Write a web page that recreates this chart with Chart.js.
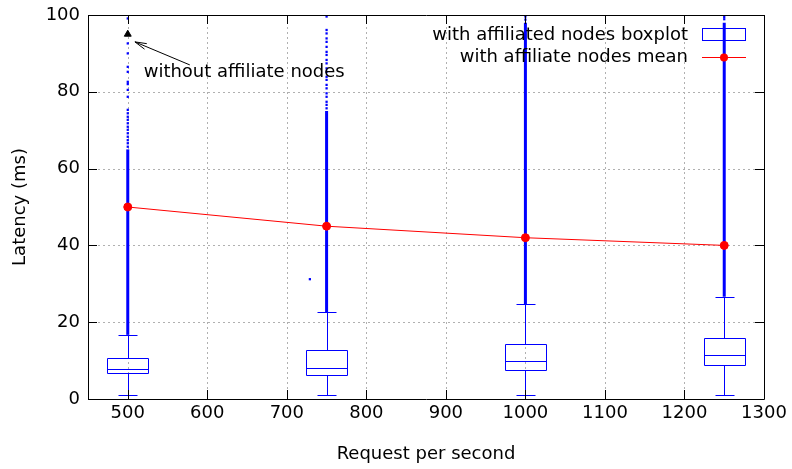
<!DOCTYPE html>
<html>
<head>
<meta charset="utf-8">
<script src="https://cdn.jsdelivr.net/npm/chart.js@4.4.1/dist/chart.umd.min.js"></script>
<style>
  html, body { margin: 0; padding: 0; background: #fff; }
  #wrap { width: 792px; height: 469px; }
</style>
</head>
<body>
<div id="wrap"><canvas id="latencyGraph" width="792" height="469"></canvas></div>
<script>
// request rates and box statistics
const rates = [500, 750, 1000, 1250]
const means = [50, 45, 42, 40]
const lowWhisker = [1.0, 1.0, 1.0, 1.1]
const q1 = [6.8, 6.3, 7.5, 8.9]
const medians = [7.8, 8.1, 9.9, 11.5]
const q3 = [10.7, 12.8, 14.3, 15.9]
const highWhisker = [16.7, 22.6, 24.7, 26.6]
// outliers so dense they look like a solid bar: from whisker up to this value
const denseTop = [65, 75, 98, 98]
// sparse outliers above the solid part
const outliers500 = [99.1, 92.6, 90.0, 86.5, 85.2, 82.6, 82.0, 80.5, 78.7, 75.3, 74.4, 73.5, 72.7, 71.8, 70.9, 70.1, 69.2, 68.3, 67.4, 66.6, 65.7]
const outliers750 = [99.6, 96.1, 95.2, 93.9, 93.0, 91.7, 90.4, 89.6, 88.3, 87.4, 86.1, 85.2, 83.9, 83.1, 81.8, 80.9, 79.6, 78.7, 77.4, 76.6, 75.7]
const outliers1000 = [98.8, 99.6]
const outliers1250 = [98.9, 99.5]
const strayPoint = { x: 729, y: 31.2 }
// the single "without affiliate nodes" marker
const withoutAffiliate = [{ x: 500, y: 95 }]

const xTicks = [500, 600, 700, 800, 900, 1000, 1100, 1200, 1300]
const yTicks = [0, 20, 40, 60, 80, 100]

const boxWidth = 52   // in request/s units
const capWidth = 24
const FONT = "'DejaVu Sans', sans-serif"
const FSIZE = 18

const outlierLists = [outliers500, outliers750, outliers1000, outliers1250]
let outlierPoints = []
outlierLists.forEach(function (list, i) {
    list.forEach(function (v) { outlierPoints.push({ x: rates[i], y: v }) })
})
outlierPoints.push(strayPoint)

const denseSets = rates.map(function (r, i) {
    return {
        type: 'line',
        data: [{ x: r, y: highWhisker[i] }, { x: r, y: denseTop[i] }],
        borderColor: '#0000ff',
        borderWidth: 3,
        pointRadius: 0,
        order: 3
    }
})

const boxPlugin = {
    id: 'boxes',
    beforeDatasetsDraw(chart) {
        const ctx = chart.ctx
        const a = chart.chartArea
        const x = chart.scales.x, y = chart.scales.y
        ctx.save()
        // dotted grid
        ctx.strokeStyle = '#b0b0b0'
        ctx.lineWidth = 1
        ctx.setLineDash([2, 3])
        ctx.beginPath()
        xTicks.forEach(function (t) {
            const px = Math.round(x.getPixelForValue(t)) + 0.5
            ctx.moveTo(px, a.bottom); ctx.lineTo(px, a.top)
        })
        yTicks.forEach(function (t) {
            const py = Math.round(y.getPixelForValue(t)) + 0.5
            ctx.moveTo(a.left, py); ctx.lineTo(a.right, py)
        })
        ctx.stroke()
        ctx.setLineDash([])

        ctx.strokeStyle = '#0000ff'
        rates.forEach(function (r, i) {
            const cx = Math.round(x.getPixelForValue(r)) + 0.5
            const l = Math.round(x.getPixelForValue(r - boxWidth / 2)) + 0.5
            const rr = Math.round(x.getPixelForValue(r + boxWidth / 2)) + 0.5
            const cl = Math.round(x.getPixelForValue(r - capWidth / 2)) + 0.5
            const cr = Math.round(x.getPixelForValue(r + capWidth / 2)) + 0.5
            const py = function (v) { return Math.round(y.getPixelForValue(v)) + 0.5 }
            ctx.beginPath()
            ctx.rect(l, py(q3[i]), rr - l, py(q1[i]) - py(q3[i]))
            ctx.moveTo(l, py(medians[i])); ctx.lineTo(rr, py(medians[i]))
            ctx.moveTo(cx, py(q1[i])); ctx.lineTo(cx, py(lowWhisker[i]))
            ctx.moveTo(cx, py(q3[i])); ctx.lineTo(cx, py(highWhisker[i]))
            ctx.moveTo(cl, py(lowWhisker[i])); ctx.lineTo(cr, py(lowWhisker[i]))
            ctx.moveTo(cl, py(highWhisker[i])); ctx.lineTo(cr, py(highWhisker[i]))
            ctx.stroke()
        })
        ctx.restore()
    },
    afterDraw(chart) {
        const ctx = chart.ctx
        const a = chart.chartArea
        const x = chart.scales.x, y = chart.scales.y
        ctx.save()
        // frame and inward tick marks (mirrored)
        ctx.strokeStyle = '#000'
        ctx.lineWidth = 1
        ctx.beginPath()
        ctx.rect(Math.round(a.left) + 0.5, Math.round(a.top) + 0.5, Math.round(a.right - a.left), Math.round(a.bottom - a.top))
        xTicks.forEach(function (t) {
            const px = Math.round(x.getPixelForValue(t)) + 0.5
            ctx.moveTo(px, a.bottom); ctx.lineTo(px, a.bottom - 9)
            ctx.moveTo(px, a.top); ctx.lineTo(px, a.top + 9)
        })
        yTicks.forEach(function (t) {
            const py = Math.round(y.getPixelForValue(t)) + 0.5
            ctx.moveTo(a.left, py); ctx.lineTo(a.left + 9, py)
            ctx.moveTo(a.right, py); ctx.lineTo(a.right - 9, py)
        })
        ctx.stroke()

        // annotation arrow and text
        const tail = { x: x.getPixelForValue(578), y: y.getPixelForValue(87) }
        const tip = { x: x.getPixelForValue(509), y: y.getPixelForValue(93) }
        const ang = Math.atan2(tip.y - tail.y, tip.x - tail.x)
        ctx.beginPath()
        ctx.moveTo(tail.x, tail.y); ctx.lineTo(tip.x, tip.y)
        ctx.moveTo(tip.x - 12 * Math.cos(ang - 0.25), tip.y - 12 * Math.sin(ang - 0.25)); ctx.lineTo(tip.x, tip.y)
        ctx.lineTo(tip.x - 12 * Math.cos(ang + 0.25), tip.y - 12 * Math.sin(ang + 0.25))
        ctx.stroke()
        ctx.fillStyle = '#000'
        ctx.font = FSIZE + 'px ' + FONT
        ctx.textBaseline = 'middle'
        ctx.textAlign = 'left'
        ctx.fillText('without affiliate nodes', x.getPixelForValue(520), y.getPixelForValue(85.2))

        // legend, gnuplot style: text right aligned, sample on the right
        ctx.textAlign = 'right'
        ctx.fillText('with affiliated nodes boxplot', 688, 35)
        ctx.fillText('with affiliate nodes mean', 688, 57)
        ctx.strokeStyle = '#0000ff'
        ctx.strokeRect(702.5, 28.5, 43, 12)
        ctx.strokeStyle = '#ff0000'
        ctx.beginPath()
        ctx.moveTo(702, 57.5); ctx.lineTo(746, 57.5)
        ctx.stroke()
        ctx.fillStyle = '#ff0000'
        ctx.beginPath()
        ctx.arc(724, 57.5, 4, 0, Math.PI * 2)
        ctx.fill()
        ctx.restore()
    }
}

const config = {
    type: 'scatter',
    data: {
        datasets: [{
            type: 'line',
            label: 'with affiliate nodes mean',
            data: rates.map(function (r, i) { return { x: r, y: means[i] } }),
            borderColor: '#ff0000',
            backgroundColor: '#ff0000',
            borderWidth: 1,
            pointRadius: 4,
            pointHoverRadius: 4,
            order: 0
        }, {
            label: 'without affiliate nodes',
            data: withoutAffiliate,
            pointStyle: 'triangle',
            pointRadius: 4,
            backgroundColor: '#000',
            borderColor: '#000',
            borderWidth: 1,
            order: 1
        }, {
            label: 'outliers',
            data: outlierPoints,
            pointStyle: 'rect',
            pointRadius: 1.6,
            backgroundColor: '#0000ff',
            borderColor: '#0000ff',
            borderWidth: 0,
            order: 2
        }].concat(denseSets)
    },
    options: {
        responsive: false,
        animation: false,
        events: [],
        layout: { padding: { left: 0, right: 28, top: 15, bottom: 0 } },
        plugins: {
            legend: { display: false },
            tooltip: { enabled: false }
        },
        scales: {
            x: {
                type: 'linear',
                min: 450,
                max: 1300,
                afterBuildTicks: function (scale) {
                    scale.ticks = xTicks.map(function (v) { return { value: v } })
                },
                afterFit: function (scale) {
                    scale.height = 70
                    scale.paddingLeft = 0
                    scale.paddingRight = 0
                },
                grid: { display: false, drawTicks: false },
                border: { display: false },
                ticks: {
                    color: '#000', font: { size: FSIZE, family: FONT }, padding: 4, maxRotation: 0, autoSkip: false,
                    callback: function (v) { return String(v) }
                },
                title: { display: true, text: 'Request per second', color: '#000', font: { size: FSIZE, family: FONT }, padding: { top: 0, bottom: 4 } }
            },
            y: {
                min: 0,
                max: 100,
                afterBuildTicks: function (scale) {
                    scale.ticks = yTicks.map(function (v) { return { value: v } })
                },
                afterFit: function (scale) {
                    scale.width = 88
                    scale.paddingTop = 0
                    scale.paddingBottom = 0
                },
                grid: { display: false, drawTicks: false },
                border: { display: false },
                ticks: { color: '#000', font: { size: FSIZE, family: FONT }, padding: 8, callback: function (v) { return String(v) } },
                title: { display: true, text: 'Latency (ms)', color: '#000', font: { size: FSIZE, family: FONT }, padding: { top: 10, bottom: 0 } }
            }
        }
    },
    plugins: [boxPlugin]
}

const myChart = new Chart(document.getElementById('latencyGraph'), config)
</script>
</body>
</html>
